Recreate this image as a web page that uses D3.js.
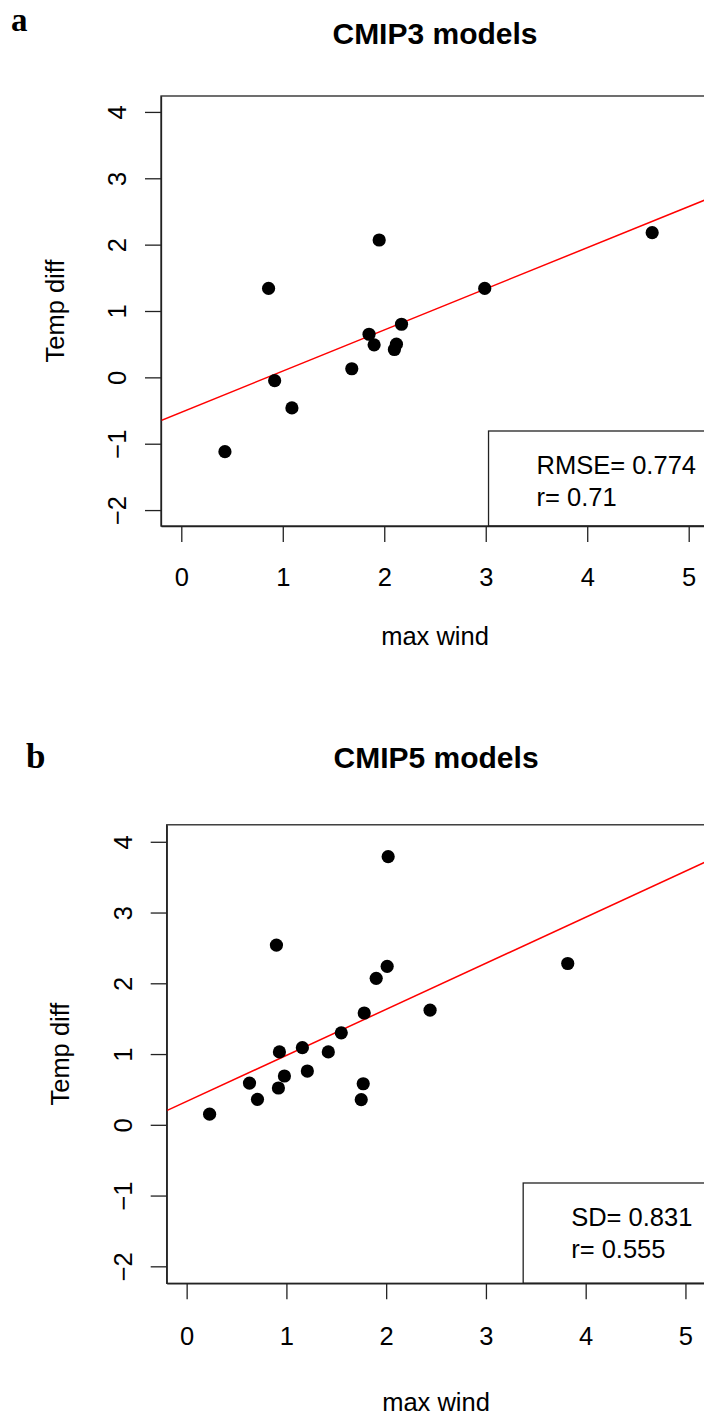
<!DOCTYPE html>
<html>
<head>
<meta charset="utf-8">
<script src="https://cdn.jsdelivr.net/npm/d3@7"></script>
<style>
  body { margin: 0; background: #fff; }
  svg text { font-family: "Liberation Sans", Arial, sans-serif; fill: #000; }
  .panel-tag { font-family: "Liberation Serif", "Times New Roman", serif; font-weight: bold; }
</style>
</head>
<body>
<div id="chart"></div>
<script>
// Donnees
const xTicks = [0, 1, 2, 3, 4, 5];
const yTicks = [-2, -1, 0, 1, 2, 3, 4];
const xLimits = [0, 5];
const yLimits = [-2, 4];

// CMIP3
const cmip3Wind = [0.43, 0.86, 0.92, 1.09, 1.68, 1.85, 1.90, 1.95, 2.10, 2.12, 2.17, 2.99, 4.64];
const cmip3Temp = [-1.12, 1.34, -0.05, -0.46, 0.13, 0.65, 0.49, 2.07, 0.42, 0.50, 0.80, 1.34, 2.18];
const cmip3Fit = [-0.526, 0.62];          // intercept, pente
const cmip3Stats = ["RMSE= 0.774", "r= 0.71"];

// CMIP5
const cmip5Wind = [0.23, 0.63, 0.71, 0.90, 0.92, 0.93, 0.98, 1.16, 1.21, 1.42, 1.55, 1.75, 1.77, 1.78, 1.90, 2.01, 2.02, 2.44, 3.82];
const cmip5Temp = [0.15, 0.59, 0.36, 2.54, 0.52, 1.03, 0.69, 1.09, 0.76, 1.03, 1.30, 0.355, 0.58, 1.58, 2.07, 2.24, 3.79, 1.62, 2.28];
const cmip5Fit = [0.331, 0.6505];
const cmip5Stats = ["SD= 0.831", "r= 0.555"];

const panels = [
  {tag: "a", title: "CMIP3 models", wind: cmip3Wind, temp: cmip3Temp, fit: cmip3Fit, stats: cmip3Stats,
   box: {left: 161, right: 709, top: 96, bottom: 526},
   tagPos: [11, 31], titleY: 44, xlabGap: 119, ylabX: 55, legendTop: 431},
  {tag: "b", title: "CMIP5 models", wind: cmip5Wind, temp: cmip5Temp, fit: cmip5Fit, stats: cmip5Stats,
   box: {left: 166.7, right: 705.4, top: 824.8, bottom: 1283.3},
   tagPos: [26, 768], titleY: 768, xlabGap: 128, ylabX: 60, legendTop: 1183}
];

const svg = d3.select("#chart")
  .append("svg")
  .attr("width", 704)
  .attr("height", 1419);

svg.append("rect").attr("width", 704).attr("height", 1419).attr("fill", "#fff");

const fontSize = 25.5;

panels.forEach(function(p, i) {
  const b = p.box;
  // R etend les limites de 4%
  const padX = (xLimits[1] - xLimits[0]) * 0.04,
        padY = (yLimits[1] - yLimits[0]) * 0.04;
  const x = d3.scaleLinear().domain([xLimits[0] - padX, xLimits[1] + padX]).range([b.left, b.right]);
  const y = d3.scaleLinear().domain([yLimits[0] - padY, yLimits[1] + padY]).range([b.bottom, b.top]);
  const cx = (b.left + b.right) / 2, cy = (b.top + b.bottom) / 2;

  const g = svg.append("g");

  // lettre du panneau
  g.append("text").attr("class", "panel-tag")
    .attr("x", p.tagPos[0]).attr("y", p.tagPos[1])
    .style("font-size", i === 0 ? "33px" : "35px")
    .text(p.tag);

  // titre
  g.append("text")
    .attr("x", cx).attr("y", p.titleY)
    .attr("text-anchor", "middle")
    .style("font-size", "30px").style("font-weight", "bold")
    .text(p.title);

  // clip sur la zone du graphique
  const clipId = "clip" + i;
  svg.append("clipPath").attr("id", clipId)
    .append("rect")
    .attr("x", b.left).attr("y", b.top)
    .attr("width", b.right - b.left).attr("height", b.bottom - b.top);

  // axe X
  const ax = g.append("g")
    .attr("transform", `translate(0, ${b.bottom})`)
    .call(d3.axisBottom(x).tickValues(xTicks).tickSize(16).tickSizeOuter(0).tickPadding(i === 0 ? 26 : 28).tickFormat(d3.format("d")));
  ax.selectAll("text").style("font-size", fontSize + "px").attr("font-family", null);
  ax.selectAll("line, path").attr("stroke", "#222").attr("stroke-width", 1.3);

  // axe Y, etiquettes verticales facon R
  const ay = g.append("g")
    .attr("transform", `translate(${b.left}, 0)`)
    .call(d3.axisLeft(y).tickValues(yTicks).tickSize(16).tickSizeOuter(0).tickFormat(d => d < 0 ? "\u2212" + Math.abs(d) : d));
  ay.selectAll("text")
    .attr("x", null).attr("dy", "0.35em")
    .attr("transform", "translate(-44,0) rotate(-90)")
    .style("text-anchor", "middle")
    .style("font-size", fontSize + "px").attr("font-family", null);
  ay.selectAll("line, path").attr("stroke", "#222").attr("stroke-width", 1.3);

  // titres des axes
  g.append("text")
    .attr("x", cx).attr("y", b.bottom + p.xlabGap)
    .attr("text-anchor", "middle")
    .style("font-size", fontSize + "px")
    .text("max wind");
  g.append("text")
    .attr("transform", `translate(${p.ylabX}, ${cy}) rotate(-90)`)
    .attr("dy", "0.35em")
    .attr("text-anchor", "middle")
    .style("font-size", fontSize + "px")
    .text("Temp diff");

  // droite de regression
  const xd = x.domain();
  g.append("line")
    .attr("clip-path", `url(#${clipId})`)
    .attr("x1", x(xd[0])).attr("y1", y(p.fit[0] + p.fit[1] * xd[0]))
    .attr("x2", x(xd[1])).attr("y2", y(p.fit[0] + p.fit[1] * xd[1]))
    .attr("stroke", "#ff0000").attr("stroke-width", 1.5);

  // points
  g.append("g").selectAll("circle")
    .data(p.wind.map((w, k) => ({w: w, t: p.temp[k]})))
    .join("circle")
    .attr("cx", d => x(d.w))
    .attr("cy", d => y(d.t))
    .attr("r", 6.6)
    .attr("fill", "#000");

  // legende en bas a droite
  const leg = g.append("g");
  const texts = leg.selectAll("text")
    .data(p.stats)
    .join("text")
    .style("font-size", fontSize + "px")
    .text(d => d);
  let maxW = 0;
  texts.each(function() { maxW = Math.max(maxW, this.getComputedTextLength()); });
  const legLeft = b.right - 13 - maxW - 48;
  leg.insert("rect", "text")
    .attr("x", legLeft).attr("y", p.legendTop)
    .attr("width", b.right - legLeft + 2).attr("height", b.bottom - p.legendTop)
    .attr("fill", "#fff").attr("stroke", "#222").attr("stroke-width", 1.3);
  texts.attr("x", legLeft + 48)
    .attr("y", (d, k) => p.legendTop + 43 + k * 32);

  // cadre
  g.append("rect")
    .attr("x", b.left).attr("y", b.top)
    .attr("width", b.right - b.left).attr("height", b.bottom - b.top)
    .attr("fill", "none").attr("stroke", "#222").attr("stroke-width", 1.3);
});
</script>
</body>
</html>
